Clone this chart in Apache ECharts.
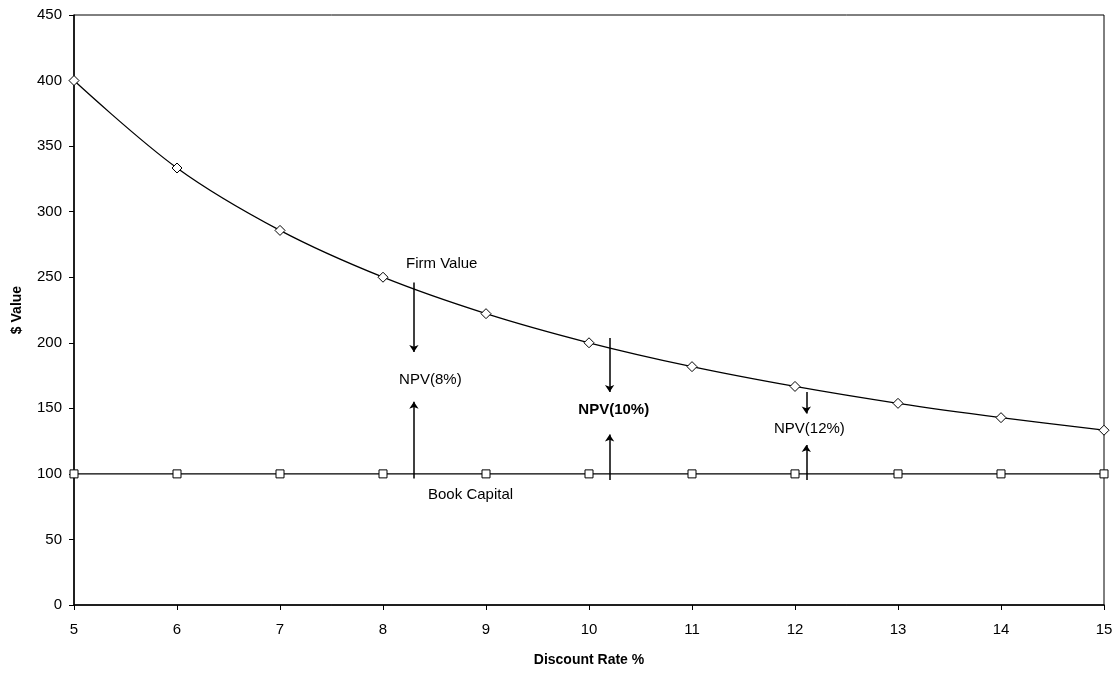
<!DOCTYPE html>
<html>
<head>
<meta charset="utf-8">
<script src="https://cdn.jsdelivr.net/npm/echarts@6/dist/echarts.min.js"></script>
<style>html,body{margin:0;padding:0;background:#fff}#c{width:1119px;height:673px}</style>
</head>
<body>
<div id="c"></div>
<script>
const discountRates = [5, 6, 7, 8, 9, 10, 11, 12, 13, 14, 15];
const firmValue = [400, 333.3, 285.7, 250, 222.2, 200, 181.8, 166.7, 153.8, 142.9, 133.3];
const bookCapital = [100, 100, 100, 100, 100, 100, 100, 100, 100, 100, 100];

// arrows: [x, fromY, toY]
const arrows = [
  [8.30, 246, 193], [8.30, 96.5, 155],
  [10.20, 203.7, 162.5], [10.20, 95.3, 130],
  [12.11, 162.5, 146], [12.11, 95.3, 122]
];
// annotations: [x, y, text, bold]
const notes = [
  [8.57, 260, 'Firm Value', false],
  [8.46, 171.5, 'NPV(8%)', false],
  [8.85, 84, 'Book Capital', false],
  [10.24, 148.7, 'NPV(10%)', true],
  [12.14, 134.2, 'NPV(12%)', false]
];

const FONT = 'Liberation Sans, Arial, sans-serif';
const chart = echarts.init(document.getElementById('c'));
chart.setOption({
  animation: false,
  backgroundColor: '#fff',
  grid: { left: 74, right: 15, top: 15, bottom: 68, show: true, borderColor: '#000', borderWidth: 1 },
  xAxis: {
    type: 'value', min: 5, max: 15, interval: 1,
    name: 'Discount Rate %', nameLocation: 'middle', nameGap: 48,
    nameTextStyle: { fontFamily: FONT, fontWeight: 'bold', fontSize: 14, color: '#000' },
    axisLine: { lineStyle: { color: '#000', width: 1.5 } },
    axisTick: { show: true, inside: false, length: 5, lineStyle: { color: '#000' } },
    axisLabel: { fontFamily: FONT, fontSize: 15, color: '#000', margin: 17 },
    splitLine: { show: false }
  },
  yAxis: {
    type: 'value', min: 0, max: 450, interval: 50,
    name: '$ Value', nameLocation: 'middle', nameGap: 50, nameRotate: 90,
    nameTextStyle: { fontFamily: FONT, fontWeight: 'bold', fontSize: 14, color: '#000' },
    axisLine: { show: true, lineStyle: { color: '#000', width: 1.5 } },
    axisTick: { show: true, inside: false, length: 5, lineStyle: { color: '#000' } },
    axisLabel: { fontFamily: FONT, fontSize: 15, color: '#000', margin: 12 },
    splitLine: { show: false }
  },
  series: [
    {
      type: 'line', name: 'Firm Value', smooth: 0.35,
      data: discountRates.map((x, i) => [x, firmValue[i]]),
      symbol: 'diamond', symbolSize: 10,
      itemStyle: { color: '#fff', borderColor: '#000', borderWidth: 1 },
      lineStyle: { color: '#000', width: 1.3 }, z: 3
    },
    {
      type: 'line', name: 'Book Capital',
      data: discountRates.map((x, i) => [x, bookCapital[i]]),
      symbol: 'rect', symbolSize: 8,
      itemStyle: { color: '#fff', borderColor: '#000', borderWidth: 1 },
      lineStyle: { color: '#000', width: 1.3 }, z: 3
    },
    {
      type: 'lines', coordinateSystem: 'cartesian2d',
      symbol: ['none', 'arrow'], symbolSize: [0, 7],
      lineStyle: { color: '#000', width: 1.5, opacity: 1 },
      data: arrows.map(a => ({ coords: [[a[0], a[1]], [a[0], a[2]]] })), z: 4
    },
    {
      type: 'scatter', symbolSize: 1, silent: true,
      itemStyle: { opacity: 1, color: 'rgba(0,0,0,0)' },
      data: notes.map(n => ({
        value: [n[0], n[1]],
        label: {
          show: true, position: 'inside', formatter: n[2],
          fontFamily: FONT, fontSize: 15, color: '#000', opacity: 1,
          fontWeight: n[3] ? 'bold' : 'normal'
        }
      })), z: 5
    }
  ]
});
</script>
</body>
</html>
